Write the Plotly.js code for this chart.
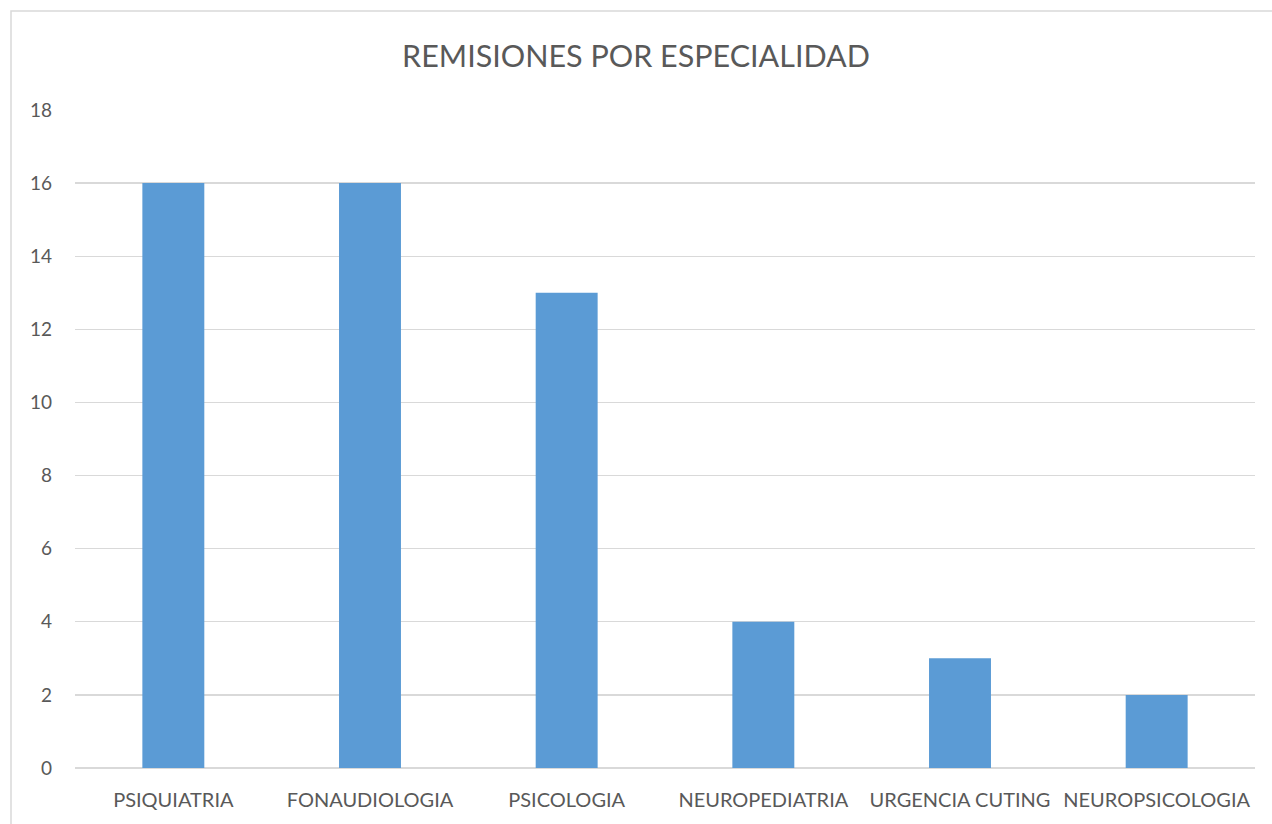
<!DOCTYPE html>
<html>
<head>
<meta charset="utf-8">
<script src="https://cdn.plot.ly/plotly-3.0.1.min.js"></script>
<style>html,body{margin:0;padding:0;background:#fff;}#chart{width:1272px;height:824px;}</style>
</head>
<body>
<div id="chart"></div>
<script>
const categories = ["PSIQUIATRIA", "FONAUDIOLOGIA", "PSICOLOGIA", "NEUROPEDIATRIA", "URGENCIA CUTING", "NEUROPSICOLOGIA"];
const values = [16, 16, 13, 4, 3, 2];
const yTicks = [0, 2, 4, 6, 8, 10, 12, 14, 16, 18];

const font = "Lato, 'Open Sans', sans-serif";
const L = 75, R = 17, T = 110, B = 56, W = 1272, H = 824;
const pw = W - L - R, ph = H - T - B;

Plotly.newPlot('chart', [{
  type: 'bar',
  x: categories,
  y: values,
  marker: {color: '#5b9bd5'},
  hoverinfo: 'x+y'
}], {
  width: W, height: H,
  margin: {l: L, r: R, t: T, b: B, pad: 0},
  paper_bgcolor: '#ffffff',
  plot_bgcolor: '#ffffff',
  bargap: 0.685,
  showlegend: false,
  title: {text: 'REMISIONES POR ESPECIALIDAD', font: {family: font, size: 30.5, color: '#595959'}, x: 0.5, xanchor: 'center', xref: 'container', y: 1 - 56/H, yanchor: 'middle', yref: 'container'},
  xaxis: {
    tickfont: {family: font, size: 20, color: '#595959'},
    showgrid: false, zeroline: false, showline: false, ticks: '',
    ticklabelstandoff: 18
  },
  yaxis: {
    range: [0, 18],
    tickvals: yTicks,
    tickfont: {family: font, size: 19, color: '#595959'},
    showgrid: true, gridcolor: '#d9d9d9', gridwidth: 1.3,
    zeroline: true, zerolinecolor: '#d9d9d9', zerolinewidth: 1.3,
    showline: false, ticks: '',
    ticklabelstandoff: 22
  },
  shapes: [{
    type: 'rect', xref: 'paper', yref: 'paper',
    x0: (11 - L) / pw, x1: 2,
    y0: -1, y1: 1 + (T - 11) / ph,
    line: {color: '#d9d9d9', width: 1.5}, fillcolor: 'rgba(0,0,0,0)', layer: 'below'
  }]
}, {staticPlot: true});
</script>
</body>
</html>
